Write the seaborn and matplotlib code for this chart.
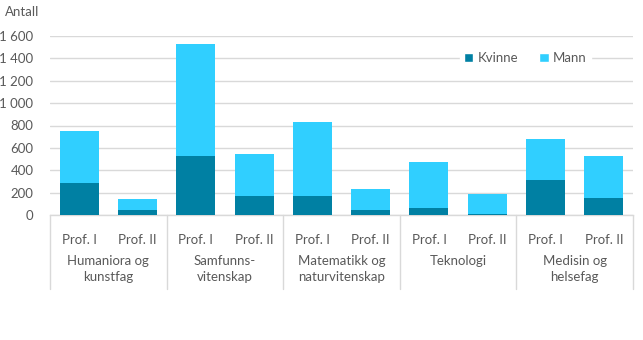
import matplotlib
matplotlib.use("Agg")
import matplotlib.pyplot as plt
import matplotlib.transforms as mtransforms
from matplotlib.patches import Patch
import seaborn as sns
import pandas as pd

# Professors by field and position, split by gender
fields = ["Humaniora og\nkunstfag", "Samfunns-\nvitenskap", "Matematikk og\nnaturvitenskap",
          "Teknologi", "Medisin og\nhelsefag"]
positions = ["Prof. I", "Prof. II"]
kvinne = [286, 45, 530, 170, 170, 45, 63, 12, 313, 152]
mann = [465, 98, 998, 375, 661, 187, 411, 176, 366, 375]
y_ticks = [0, 200, 400, 600, 800, 1000, 1200, 1400, 1600]
y_tick_labels = ["0", "200", "400", "600", "800", "1 000", "1 200", "1 400", "1 600"]

c_kvinne = "#0080a3"
c_mann = "#30cfff"
grid_c = "#d9d9d9"
text_c = "#595959"

sns.set_theme(style="white")
plt.rcParams["font.family"] = ["Lato", "DejaVu Sans"]

rows = []
for i, f in enumerate(fields):
    for j, p in enumerate(positions):
        k = i * 2 + j
        rows.append({"key": f"{k}", "field": f, "pos": p,
                     "Kvinne": kvinne[k], "Mann": mann[k],
                     "Total": kvinne[k] + mann[k]})
df = pd.DataFrame(rows)

fig = plt.figure(figsize=(6.43, 3.40), dpi=100)
ax = fig.add_axes([50 / 643, 1 - 215 / 340, 583 / 643, 179 / 340])

sns.barplot(data=df, x="key", y="Total", color=c_mann, width=0.67,
            saturation=1, linewidth=0, ax=ax, zorder=3)
sns.barplot(data=df, x="key", y="Kvinne", color=c_kvinne, width=0.67,
            saturation=1, linewidth=0, ax=ax, zorder=4)

ax.set_xlim(-0.5, len(df) - 0.5)
ax.set_ylim(0, 1600)
ax.set_yticks(y_ticks)
ax.set_yticklabels(y_tick_labels)
ax.yaxis.grid(True, color=grid_c, linewidth=1)
ax.set_axisbelow(True)
for s in ["top", "right", "left"]:
    ax.spines[s].set_visible(False)
ax.spines["bottom"].set_color(grid_c)
ax.spines["bottom"].set_linewidth(1)
ax.tick_params(axis="y", length=0, pad=12, labelsize=9.5, labelcolor=text_c)
ax.tick_params(axis="x", length=0, pad=14, labelsize=9.5, labelcolor=text_c)
ax.set_xticks(range(len(df)))
ax.set_xticklabels(df["pos"])
ax.set_xlabel("")
ax.set_ylabel("")

# Group labels and separators below the axis
trans = mtransforms.blended_transform_factory(ax.transData, ax.transAxes)
px = 1 / 179
for i, f in enumerate(fields):
    ax.text(i * 2 + 0.5, -40 * px, f, transform=trans, ha="center", va="top",
            fontsize=9.5, color=text_c, linespacing=1.4)
for b in range(len(fields) + 1):
    ax.plot([b * 2 - 0.5, b * 2 - 0.5], [0, -74 * px], transform=trans,
            color=grid_c, linewidth=1, clip_on=False)

fig.text(5 / 643, 1 - 12 / 340, "Antall", ha="left", va="center",
         fontsize=9.5, color=text_c)

handles = [Patch(facecolor=c_kvinne, label="Kvinne"),
           Patch(facecolor=c_mann, label="Mann")]
leg = ax.legend(handles=handles, loc="center", bbox_to_anchor=(0.815, 0.877),
                ncol=2, frameon=True, fontsize=9.5, handlelength=0.75,
                handleheight=0.75, handletextpad=0.3, columnspacing=1.6,
                borderpad=0.3, edgecolor="white", facecolor="white", fancybox=False)
leg.get_frame().set_alpha(1)
for t in leg.get_texts():
    t.set_color(text_c)

fig.savefig("out.png", dpi=100, facecolor="white")
